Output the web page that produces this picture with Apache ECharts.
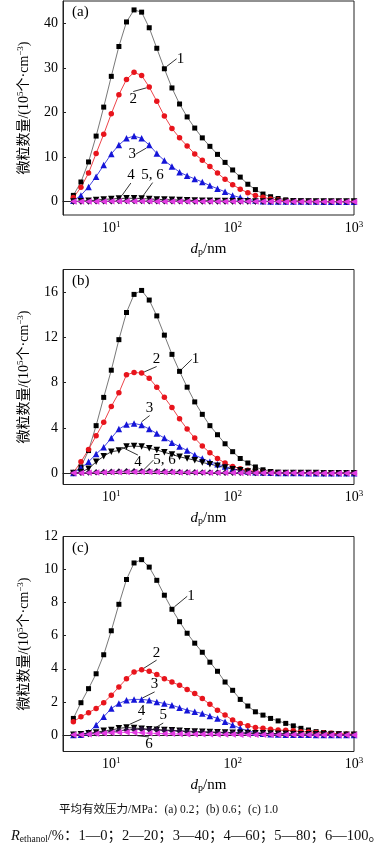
<!DOCTYPE html>
<html><head><meta charset="utf-8">
<script src="https://cdn.jsdelivr.net/npm/echarts@6/dist/echarts.min.js"></script>
<style>html,body{margin:0;padding:0;background:#fff}#c{width:374px;height:845px}</style>
</head><body><div id="c"></div>
<script>
// particle diameter channels (nm)
const dp = [4.870,5.623,6.494,7.499,8.660,10,11.55,13.34,15.40,17.78,20.54,23.71,27.38,31.62,36.52,42.17,48.70,56.23,64.94,74.99,86.60,100,115.5,133.4,154.0,177.8,205.4,237.1,273.8,316.2,365.2,421.7,487.0,562.3,649.4,749.9,866.0,1000];
const xTicks = [10,100,1000];
const seriesNames = ['1','2','3','4','5','6'];

// panel (a) 0.2 MPa
const a1 = [1.4,4.4,8.9,14.7,21.2,28.1,34.8,40.3,43.0,42.5,39.0,34.4,29.8,25.5,21.9,19.0,16.5,14.3,12.4,10.6,8.8,7.1,5.5,3.9,2.7,1.7,1.1,0.7,0.4,0.25,0.15,0.1,0.05,0.05,0.02,0.02,0.01,0.01];
const a2 = [0.9,3.2,6.4,10.8,15.1,19.7,24.0,27.4,29.0,28.3,25.7,22.5,19.2,16.4,14.3,12.5,10.7,9.3,7.9,6.4,5.0,3.8,2.8,2.0,1.4,1.0,0.6,0.35,0.2,0.1,0.05,0.05,0.03,0.02,0.02,0.01,0.01,0.01];
const a3 = [0.2,1.4,3.3,5.6,8.2,10.7,12.7,14.2,14.7,14.2,12.7,10.8,9.2,7.9,6.6,5.8,5.1,4.4,3.6,2.9,2.2,1.4,0.9,0.5,0.25,0.1,0.05,0.03,0.02,0.02,0.01,0.01,0.01,0,0,0,0,0];
const a4 = [0.05,0.1,0.2,0.35,0.5,0.6,0.7,0.75,0.75,0.7,0.6,0.5,0.45,0.4,0.35,0.3,0.25,0.2,0.18,0.15,0.12,0.1,0.08,0.06,0.05,0.04,0.03,0.03,0.02,0.02,0.02,0.01,0.01,0.01,0.01,0.01,0.01,0.01];
const a5 = [0.02,0.03,0.05,0.07,0.09,0.1,0.12,0.13,0.13,0.12,0.11,0.1,0.09,0.08,0.07,0.06,0.05,0.05,0.04,0.04,0.03,0.03,0.02,0.02,0.02,0.02,0.01,0.01,0.01,0.01,0.01,0,0,0,0,0,0,0];
const a6 = [0.01,0.02,0.03,0.04,0.05,0.06,0.06,0.07,0.07,0.06,0.06,0.05,0.05,0.04,0.04,0.03,0.03,0.03,0.02,0.02,0.02,0.02,0.01,0.01,0.01,0.01,0.01,0.01,0,0,0,0,0,0,0,0,0,0];
const aTicks = [0,10,20,30,40];

// panel (b) 0.6 MPa
const b1 = [0.05,0.55,2.0,4.2,6.7,9.1,11.8,14.2,15.8,16.15,15.3,13.9,12.2,10.5,9.0,7.6,6.3,5.2,4.2,3.4,2.6,1.9,1.3,0.9,0.55,0.3,0.15,0.08,0.05,0.03,0.02,0.02,0.01,0.01,0.01,0.01,0,0];
const b2 = [0.05,1.0,2.1,3.3,4.5,5.9,7.1,8.7,8.9,8.85,8.4,7.6,6.7,5.8,4.8,3.9,3.1,2.4,1.8,1.3,0.9,0.6,0.4,0.25,0.15,0.1,0.05,0.03,0.02,0.02,0.01,0.01,0.01,0.01,0,0,0,0];
const b3 = [0.02,0.45,1.0,1.7,2.3,3.1,3.9,4.3,4.4,4.25,3.9,3.5,3.1,2.7,2.35,2.0,1.6,1.3,1.0,0.8,0.6,0.4,0.25,0.15,0.08,0.05,0.03,0.02,0.01,0.01,0.01,0,0,0,0,0,0,0];
const b4 = [0.02,0.1,0.4,1.0,1.5,1.9,2.0,2.35,2.4,2.35,2.2,2.05,1.85,1.65,1.45,1.3,1.15,0.95,0.8,0.65,0.5,0.35,0.25,0.15,0.1,0.05,0.03,0.02,0.02,0.01,0.01,0.01,0.01,0,0,0,0,0];
const b5 = [0.02,0.03,0.05,0.08,0.1,0.13,0.15,0.17,0.18,0.18,0.17,0.16,0.14,0.12,0.1,0.09,0.08,0.07,0.06,0.05,0.04,0.04,0.03,0.03,0.02,0.02,0.02,0.01,0.01,0.01,0.01,0.01,0,0,0,0,0,0];
const b6 = [0.01,0.02,0.03,0.05,0.06,0.08,0.09,0.1,0.11,0.11,0.1,0.1,0.09,0.08,0.07,0.06,0.05,0.05,0.04,0.04,0.03,0.03,0.02,0.02,0.02,0.01,0.01,0.01,0.01,0.01,0,0,0,0,0,0,0,0];
const bTicks = [0,4,8,12,16];

// panel (c) 1.0 MPa
const c1 = [1.0,1.95,2.8,3.7,4.85,6.3,7.9,9.4,10.4,10.6,10.15,9.35,8.45,7.6,6.85,6.15,5.55,5.0,4.4,3.85,3.2,2.7,2.15,1.75,1.4,1.2,1.0,0.85,0.7,0.55,0.4,0.3,0.2,0.15,0.1,0.05,0.03,0.02];
const c2 = [0.8,1.1,1.35,1.6,1.95,2.4,2.9,3.4,3.8,3.95,3.85,3.65,3.4,3.2,3.0,2.75,2.5,2.2,1.85,1.5,1.2,0.9,0.7,0.55,0.45,0.4,0.35,0.3,0.28,0.25,0.2,0.18,0.15,0.12,0.1,0.08,0.06,0.05];
const c3 = [0,0.02,0.15,0.6,1.1,1.6,1.9,2.1,2.15,2.15,2.1,2.0,1.9,1.8,1.65,1.5,1.4,1.3,1.15,1.0,0.8,0.6,0.4,0.25,0.15,0.08,0.05,0.03,0.02,0.02,0.01,0.01,0,0,0,0,0,0];
const c4 = [0.02,0.05,0.1,0.15,0.25,0.3,0.4,0.45,0.42,0.38,0.35,0.32,0.3,0.28,0.25,0.23,0.21,0.2,0.18,0.17,0.15,0.14,0.13,0.12,0.11,0.1,0.09,0.08,0.07,0.06,0.05,0.05,0.04,0.04,0.03,0.03,0.02,0.02];
const c5 = [0.01,0.03,0.06,0.1,0.15,0.2,0.25,0.3,0.33,0.34,0.33,0.3,0.27,0.25,0.22,0.2,0.18,0.16,0.15,0.14,0.13,0.12,0.11,0.1,0.09,0.08,0.07,0.06,0.06,0.05,0.05,0.04,0.04,0.03,0.03,0.02,0.02,0.02];
const c6 = [0.01,0.02,0.04,0.07,0.1,0.13,0.15,0.16,0.15,0.13,0.11,0.09,0.08,0.07,0.06,0.05,0.05,0.04,0.04,0.03,0.03,0.03,0.02,0.02,0.02,0.02,0.01,0.01,0.01,0.01,0.01,0.01,0,0,0,0,0,0];
const cTicks = [0,2,4,6,8,10,12];

const serif = "'Liberation Serif','Times New Roman',serif";
const cjk = "'Liberation Serif','Noto Sans CJK SC',serif";

// panel layout + label annotations [dataIndex, text, dx, dy]
const panels = [
  {tag:'(a)', data:[a1,a2,a3,a4,a5,a6], ticks:aTicks, min:-3, max:45, top:1, height:214,
   labels:[[12,'1',16,-10],[10,'2',-16,12],[10,'3',-17,9],[6,'4',12,-23],[9,'5, 6',11,-26],null]},
  {tag:'(b)', data:[b1,b2,b3,b4,b5,b6], ticks:bTicks, min:-1, max:18, top:269.5, height:215,
   labels:[[14,'1',16,-12],[9,'2',15,-14],[9,'3',8,-17],[6,'4',19,12],[9,'5, 6',23,-11],null]},
  {tag:'(c)', data:[c1,c2,c3,c4,c5,c6], ticks:cTicks, min:-1, max:12, top:536.5, height:215,
   labels:[[13,'1',19,-13],[9,'2',15,-17],[9,'3',13,-15],[7,'4',15,-16],[10,'5',14,-14],[8,'6',15,12]]}
];

const styles = [
  {symbol:'rect', size:5, color:'#000', line:'#555'},
  {symbol:'circle', size:5.5, color:'#e8141c', line:'#e8141c'},
  {symbol:'triangle', size:6.5, color:'#1515d8', line:'#1515d8'},
  {symbol:'path://M0,0 L10,0 L5,9 Z', size:6.5, color:'#000', line:'#000'},
  {symbol:'diamond', size:6.5, color:'#26103c', line:'#26103c'},
  {symbol:'path://M9,0 L9,10 L0,5 Z', size:6.5, color:'#e23be2', line:'#e23be2'}
];

const grids = [], xAxes = [], yAxes = [], series = [], titles = [];
const supRich = {
  b: {fontSize:14, fontFamily:serif, color:'#000', lineHeight:16},
  sup: {fontSize:9, fontFamily:serif, color:'#000', lineHeight:16, verticalAlign:'top', padding:[0,0,6,0]}
};

panels.forEach((p, pi) => {
  grids.push({left:63, width:291, top:p.top, height:p.height, show:true, borderColor:'#222', borderWidth:1, containLabel:false});
  xAxes.push({
    type:'log', logBase:10, gridIndex:pi, min:4, max:1000,
    name:'{i|d}{s|p}{n|/nm}', nameLocation:'middle', nameGap:26,
    nameTextStyle:{rich:{
      i:{fontSize:15, fontStyle:'italic', fontFamily:serif, color:'#000'},
      s:{fontSize:10, fontFamily:serif, color:'#000', verticalAlign:'bottom', padding:[6,0,0,0]},
      n:{fontSize:15, fontFamily:serif, color:'#000'}
    }},
    axisLine:{show:true, lineStyle:{color:'#222', width:1}},
    axisTick:{show:true, inside:true, length:3, customValues:xTicks, lineStyle:{color:'#222'}},
    axisLabel:{show:true, margin:5, customValues:xTicks,
      formatter: v => '{b|10}{sup|' + Math.round(Math.log10(v)) + '}', rich:supRich},
    splitLine:{show:false}, minorTick:{show:false}
  });
  yAxes.push({
    type:'value', gridIndex:pi, min:p.min, max:p.max,
    name:'微粒数量/(10{sup|5}个·cm{sup|−3})', nameLocation:'middle', nameGap:31, nameRotate:90,
    nameTextStyle:{fontSize:14, fontFamily:cjk, color:'#000', rich:{
      sup:{fontSize:9, fontFamily:serif, color:'#000', verticalAlign:'top', lineHeight:16, padding:[0,0,6,0]}
    }},
    axisLine:{show:true, lineStyle:{color:'#222', width:1}},
    axisTick:{show:true, inside:true, length:3, customValues:p.ticks, lineStyle:{color:'#222'}},
    axisLabel:{show:true, margin:5, customValues:p.ticks, fontSize:14, fontFamily:serif, color:'#000'},
    splitLine:{show:false}
  });
  titles.push({text:p.tag, left:67, top:Math.max(0, p.top - 1), textStyle:{fontSize:15, fontWeight:'normal', fontFamily:serif, color:'#000'}});
  p.data.forEach((vals, si) => {
    const st = styles[si];
    const lab = p.labels[si];
    series.push({
      type:'line', name:seriesNames[si], xAxisIndex:pi, yAxisIndex:pi,
      data: vals.map((v, i) => {
        const item = {value:[dp[i], v]};
        if (lab && lab[0] === i) item.label = {show:true, formatter:lab[1]};
        return item;
      }),
      symbol:st.symbol, symbolSize:st.size, showAllSymbol:true,
      itemStyle:{color:st.color}, lineStyle:{color:st.line, width:0.8},
      label:{show:false, position:'inside', fontSize:15, fontFamily:serif, color:'#000'},
      labelLine:{show:true, lineStyle:{color:'#000', width:0.8}},
      labelLayout: params => (lab && params.dataIndex === lab[0]) ? {dx:lab[2], dy:lab[3]} : {},
      animation:false, emphasis:{disabled:true}
    });
  });
});

titles.push({text:'{t|平均有效压力/MPa：(a) 0.2；(b) 0.6；(c) 1.0}', left:54, top:799,
  textStyle:{fontWeight:'normal', rich:{
    t:{fontSize:11.5, fontWeight:'normal', fontFamily:cjk, color:'#111'}
  }}});
titles.push({text:'{i|R}{s|ethanol}{t|/%：1—0；2—20；3—40；4—60；5—80；6—100。}', left:6, top:823,
  textStyle:{fontWeight:'normal', rich:{
    i:{fontSize:14.5, fontStyle:'italic', fontWeight:'normal', fontFamily:serif, color:'#111'},
    s:{fontSize:9.5, fontWeight:'normal', fontFamily:serif, color:'#111', verticalAlign:'bottom', padding:[6,0,0,0]},
    t:{fontSize:14.5, fontWeight:'normal', fontFamily:cjk, color:'#111'}
  }}});

const chart = echarts.init(document.getElementById('c'), null, {renderer:'canvas'});
chart.setOption({
  animation:false, backgroundColor:'#fff',
  title:titles, grid:grids, xAxis:xAxes, yAxis:yAxes, series:series
});
</script>
</body></html>
